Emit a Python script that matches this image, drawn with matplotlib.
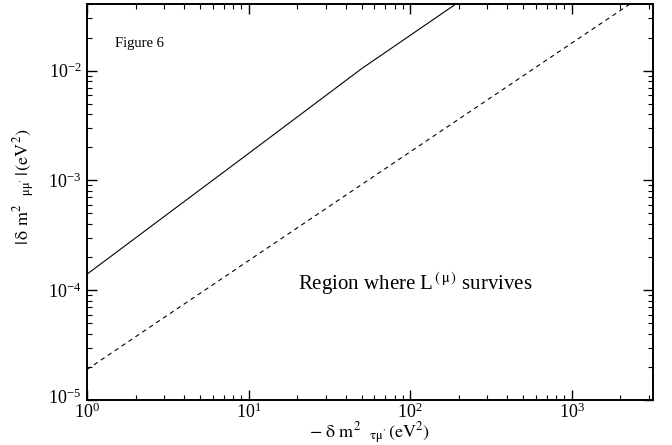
import numpy as np
import matplotlib
matplotlib.use("Agg")
import matplotlib.pyplot as plt
import matplotlib.transforms as mtransforms

plt.rcParams['font.family'] = ['Liberation Serif', 'DejaVu Serif']
plt.rcParams['mathtext.fontset'] = 'stix'

# upper bound (solid) and lower bound (dashed)
solid_x = [1, 10, 50, 190]
solid_y = [1.4e-4, 1.76e-3, 1.04e-2, 4.0e-2]

dashed_x = [1, 10, 100, 1000, 2300]
dashed_y = [1.9e-5, 1.86e-4, 1.82e-3, 1.78e-2, 4.05e-2]

fig = plt.figure(figsize=(6.72, 4.45), dpi=100)
ax = fig.add_axes([0.1295, 0.101, 0.8415, 0.890])

ax.plot(solid_x, solid_y, color='black', lw=0.8)
ax.plot(dashed_x, dashed_y, color='black', lw=0.8, linestyle=(0, (4, 3.5)))

ax.set_xscale('log')
ax.set_yscale('log')
ax.set_xlim(1, 3162)
ax.set_ylim(1e-5, 0.0404)

ax.tick_params(which='both', direction='in', top=True, right=True, labelsize=13)
ax.tick_params(which='major', length=7, width=1)
ax.tick_params(which='minor', length=3.5, width=0.8)
ax.tick_params(axis='x', pad=2)
ax.tick_params(axis='y', pad=4)
for s in ax.spines.values():
    s.set_linewidth(1.4)

# nudge the 10^-5 label up a few pixels so it clears 10^0
fig.canvas.draw()
lab = ax.get_yticklabels()[1]
lab.set_transform(lab.get_transform() + mtransforms.ScaledTranslation(0, 4 / 100, fig.dpi_scale_trans))

fig.text(0.55, 0.026, r"$-\ \mathrm{\delta}\ \mathrm{m}^{2}\ \ {}_{\mathrm{\tau\mu}'}\,(\mathrm{eV}^{2})$",
         fontsize=13, ha='center', va='center')
ax.set_ylabel(r"$|\,\mathrm{\delta}\ \mathrm{m}^{2}\ \ {}_{\mathrm{\mu\mu}'}\,|\,(\mathrm{eV}^{2})$", fontsize=13)
ax.yaxis.set_label_coords(-0.088, 0.538)

ax.text(0.0495, 0.901, "Figure 6", transform=ax.transAxes, fontsize=10.5, va='center')
ax.text(0.373, 0.295, r"Region where L$^{\,(\,\mathrm{\mu}\,)}$ survives", transform=ax.transAxes,
        fontsize=15, va='center')

fig.savefig("out.png", dpi=100)
